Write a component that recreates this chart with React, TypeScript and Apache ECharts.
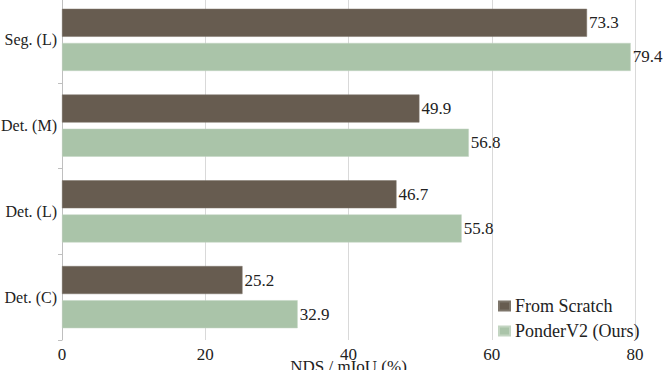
import React, { useEffect, useRef } from "react";
import * as echarts from "echarts";

const categories = ["Seg. (L)", "Det. (M)", "Det. (L)", "Det. (C)"];
const fromScratch = [73.3, 49.9, 46.7, 25.2];
const ponderV2 = [79.4, 56.8, 55.8, 32.9];
const seriesNames = ["From Scratch", "PonderV2 (Ours)"];
const xTicks = [0, 20, 40, 60, 80];

const FONT = "'Liberation Serif', 'Times New Roman', serif";

const serif = (size: number) => ({
  fontFamily: FONT,
  fontSize: size,
  color: "#222",
  fontStyle: "normal",
  fontWeight: "normal",
});

export default function App() {
  const ref = useRef<HTMLDivElement>(null);
  useEffect(() => {
    document.body.style.margin = "0";
    const chart = echarts.init(ref.current!, null, { renderer: "svg" });
    chart.setOption({
      animation: false,
      backgroundColor: "#ffffff",
      textStyle: serif(16),
      grid: {
        left: 62,
        right: 33,
        top: -3,
        height: 343,
        containLabel: false,
        outerBoundsMode: "none",
      },
      legend: {
        orient: "vertical",
        left: 493,
        top: 292,
        itemWidth: 11,
        itemHeight: 9,
        itemGap: 7,
        icon: "rect",
        textStyle: serif(18),
        data: seriesNames,
      },
      xAxis: {
        type: "value",
        min: xTicks[0],
        max: xTicks[xTicks.length - 1],
        interval: 20,
        name: "NDS / mIoU (%)",
        nameLocation: "middle",
        nameGap: 18,
        nameMoveOverlap: false,
        nameTextStyle: serif(17),
        axisLine: { show: false },
        axisTick: { show: false },
        axisLabel: { ...serif(17), margin: 6 },
        splitLine: { show: true, lineStyle: { color: "#d9d9d9", width: 1 } },
      },
      yAxis: {
        type: "category",
        data: categories,
        inverse: true,
        axisLine: { show: true, lineStyle: { color: "#bfbfbf", width: 1 } },
        axisTick: { show: true, length: 4, lineStyle: { color: "#bfbfbf" } },
        axisLabel: { ...serif(16), margin: 5 },
        splitLine: { show: false },
      },
      series: [
        {
          name: seriesNames[0],
          type: "bar",
          data: fromScratch,
          barWidth: 28,
          barGap: "22%",
          barCategoryGap: "27%",
          itemStyle: { color: "#675c50", borderColor: "#7d756a", borderWidth: 0.5 },
          label: { show: true, position: "right", distance: 2, ...serif(17) },
        },
        {
          name: seriesNames[1],
          type: "bar",
          data: ponderV2,
          barWidth: 28,
          barGap: "22%",
          barCategoryGap: "27%",
          itemStyle: { color: "#aac4a9", borderColor: "#c3d5c2", borderWidth: 0.5 },
          label: { show: true, position: "right", distance: 2, ...serif(17) },
        },
      ],
    });
    return () => chart.dispose();
  }, []);
  return (
    <div
      ref={ref}
      style={{ position: "absolute", left: 0, top: 0, width: 668, height: 370 }}
    />
  );
}
